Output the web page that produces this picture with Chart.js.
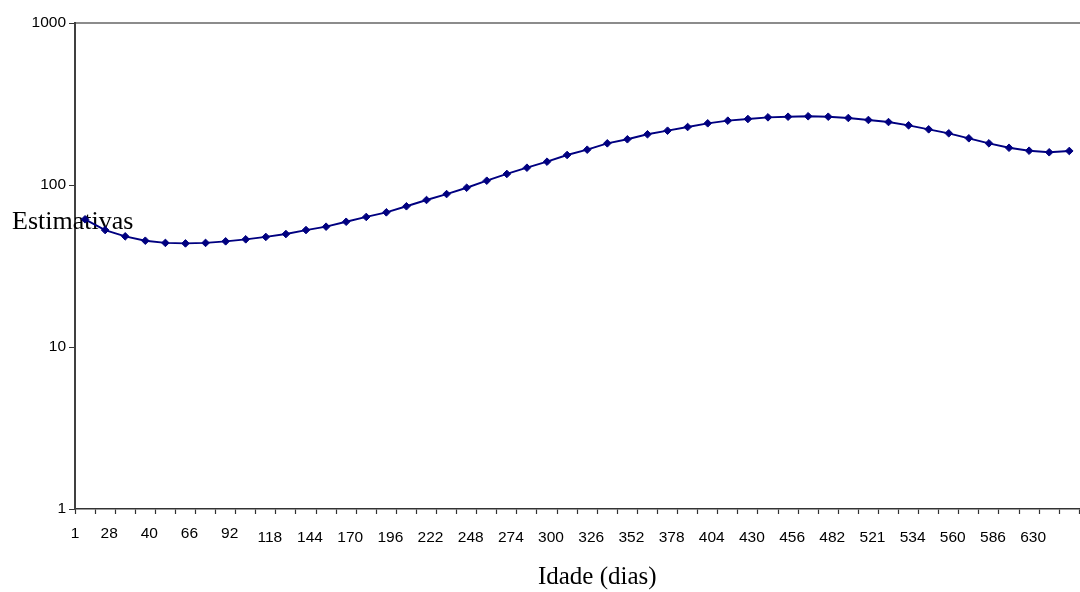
<!DOCTYPE html>
<html>
<head>
<meta charset="utf-8">
<title>Estimativas por idade</title>
<script src="https://cdn.jsdelivr.net/npm/chart.js@4/dist/chart.umd.min.js"></script>
<style>
  html, body { margin: 0; padding: 0; background: #ffffff; overflow: hidden; }
  #wrap { position: relative; width: 1130px; height: 592px; }
</style>
</head>
<body>
<div id="wrap"><canvas id="chart"></canvas></div>
<script>
// Age labels shown under the axis (every other category)
const ageLabels = ['1', '28', '40', '66', '92', '118', '144', '170', '196', '222', '248', '274',
  '300', '326', '352', '378', '404', '430', '456', '482', '521', '534', '560', '586', '630'];

// Estimated values, one per category
const estimates = [61.4, 52.7, 48.2, 45.3, 43.9, 43.6, 43.9, 44.9, 46.2, 47.8,
  49.8, 52.7, 55.3, 59.3, 63.5, 67.8, 73.9, 80.8, 87.9, 96.2,
  106.3, 117, 127.9, 139.3, 153.2, 165.2, 180.8, 191.5, 205.6, 216.4,
  228, 240.3, 249.5, 255.5, 261.6, 264, 265.6, 264, 259.2, 252,
  244.7, 233.5, 220.6, 208.5, 194.2, 180.8, 169.8, 162.8, 159.2, 162.2];

// Logarithmic axis ticks
const yTickValues = [1, 10, 100, 1000];

const yTitle = 'Estimativas';
const xTitle = 'Idade (dias)';

const points = estimates.map((v, i) => ({ x: i, y: v }));

const X_MIN = -0.5;
const X_MAX = 51.5;
const SANS = '"Liberation Sans", Arial, sans-serif';
const SERIF = '"Liberation Serif", "Times New Roman", serif';

// Horizontal axis caption drawn beside the vertical axis
const sideCaption = {
  id: 'sideCaption',
  beforeDatasetsDraw(chart) {
    const ctx = chart.ctx;
    ctx.save();
    ctx.font = '26px ' + SERIF;
    ctx.fillStyle = '#000000';
    ctx.textAlign = 'left';
    ctx.textBaseline = 'alphabetic';
    ctx.fillText(yTitle, 12, 229);
    ctx.restore();
  }
};

new Chart(document.getElementById('chart'), {
  type: 'line',
  data: {
    datasets: [{
      data: points,
      borderColor: '#000080',
      backgroundColor: '#000080',
      borderWidth: 1.9,
      tension: 0,
      pointStyle: 'rectRot',
      pointRadius: 3.8,
      pointBorderWidth: 1,
      pointBackgroundColor: '#000080',
      pointBorderColor: '#000080'
    }]
  },
  options: {
    responsive: true,
    maintainAspectRatio: false,
    animation: false,
    layout: { padding: { top: 23, right: 2, bottom: 0, left: 0 } },
    plugins: {
      legend: { display: false },
      tooltip: { enabled: false },
      title: { display: false }
    },
    scales: {
      x: {
        type: 'linear',
        position: 'bottom',
        min: X_MIN,
        max: X_MAX,
        afterBuildTicks(scale) {
          const ticks = [];
          // category boundaries carry the tick marks
          for (let b = X_MIN; b <= X_MAX + 1e-9; b += 1) {
            ticks.push({ value: b, mark: true, text: '', raised: false });
          }
          ticks[0].text = ageLabels[0];
          ticks[0].raised = true;
          // labels sit under every other category
          for (let k = 1; k < ageLabels.length; k++) {
            ticks.push({ value: 2 * k - 1 + 0.2, mark: false, text: ageLabels[k], raised: k < 5 });
          }
          ticks.sort((a, b) => a.value - b.value);
          scale.ticks = ticks;
        },
        afterFit(scale) { scale.height = 83; },
        ticks: {
          autoSkip: false,
          maxRotation: 0,
          minRotation: 0,
          padding: 10.5,
          color: '#000000',
          font: (ctx) => ({
            family: SANS,
            size: 15.5,
            lineHeight: ctx.tick && ctx.tick.raised ? 1.2 : 1.75
          }),
          callback: (value, index, ticks) => ticks[index].text
        },
        grid: {
          drawOnChartArea: false,
          drawTicks: true,
          tickLength: 5,
          tickWidth: 1.2,
          tickColor: (ctx) => (ctx.tick && ctx.tick.mark ? '#333333' : 'rgba(0,0,0,0)')
        },
        border: { display: true, color: '#333333', width: 1.5 },
        title: {
          display: true,
          text: xTitle,
          color: '#000000',
          font: { family: SERIF, size: 25, lineHeight: 1.2 },
          padding: { top: 12.85, bottom: 0 }
        }
      },
      xTop: {
        type: 'linear',
        position: 'top',
        min: X_MIN,
        max: X_MAX,
        grid: { display: false, drawTicks: false },
        ticks: { display: false },
        border: { display: true, color: '#8c8c8c', width: 2 },
        afterFit(scale) { scale.height = 0; }
      },
      y: {
        type: 'logarithmic',
        position: 'left',
        min: 1,
        max: 1000,
        afterBuildTicks(scale) {
          scale.ticks = yTickValues.map(v => ({ value: v }));
        },
        afterFit(scale) { scale.width = 75; },
        ticks: {
          padding: 3,
          color: '#000000',
          font: { family: SANS, size: 15.5 },
          callback: (value) => String(value)
        },
        grid: {
          drawOnChartArea: false,
          drawTicks: true,
          tickLength: 6,
          tickColor: '#333333'
        },
        border: { display: true, color: '#404040', width: 2 }
      }
    }
  },
  plugins: [sideCaption]
});
</script>
</body>
</html>
